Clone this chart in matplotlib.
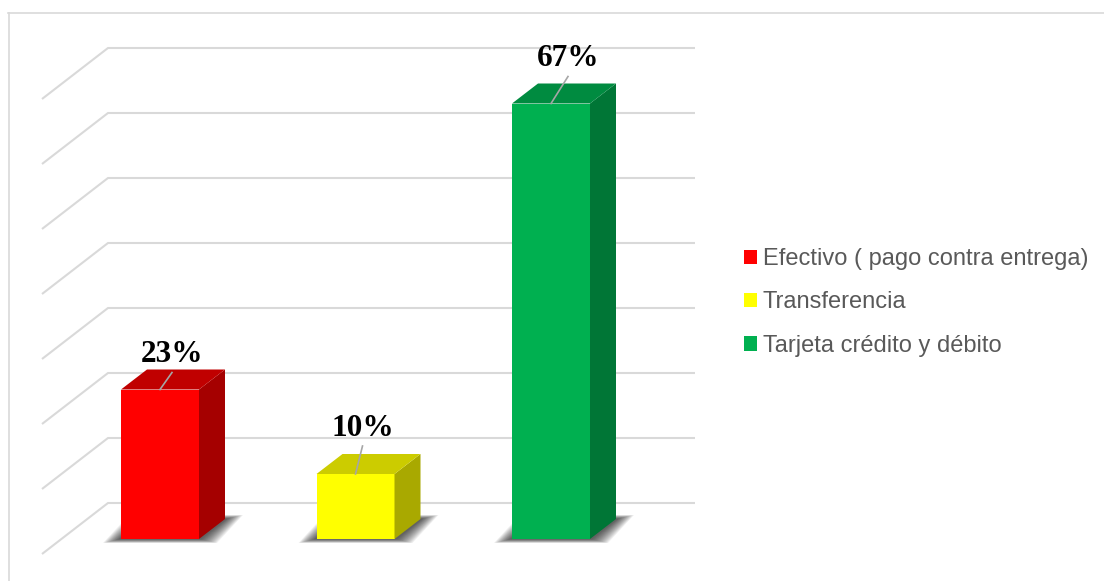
import matplotlib
matplotlib.use("Agg")
import matplotlib.pyplot as plt
from matplotlib.patches import Polygon, Rectangle
from matplotlib.lines import Line2D

# ---- data -------------------------------------------------------------
categories = ["Efectivo ( pago contra entrega)", "Transferencia", "Tarjeta crédito y débito"]
shares = [0.23, 0.10, 0.67]
value_labels = ["23%", "10%", "67%"]
gridline_values = [0.0, 0.1, 0.2, 0.3, 0.4, 0.5, 0.6, 0.7]

# ---- styling ----------------------------------------------------------
face_colors = ["#FF0000", "#FFFF00", "#00B050"]
top_colors = ["#C00000", "#CCCC00", "#008B40"]
side_colors = ["#A50000", "#A9A900", "#007636"]
# label baseline offsets in pixels (right, up) from the centre of each bar's front top edge
label_offsets = [(12, 27), (7, 38), (17, 37)]

W, H, DPI = 1104, 581, 100
PX_PER_CAT = 195.5      # horizontal distance between bar centres
PX_PER_UNIT = 650.0     # vertical pixels for a share of 1.0
FIRST_X = 160.0         # pixel column of the first bar centre
BASE_ROW = 539.0        # pixel row of the bar bases
BAR_W = 78 / PX_PER_CAT

fig = plt.figure(figsize=(W / DPI, H / DPI), dpi=DPI)
ax = fig.add_axes([0, 0, 1, 1])
ax.set_xlim(-FIRST_X / PX_PER_CAT, (W - FIRST_X) / PX_PER_CAT)
ax.set_ylim(-(H - BASE_ROW) / PX_PER_UNIT, BASE_ROW / PX_PER_UNIT)
ax.axis("off")


def col(c):
    """pixel column -> category coordinate"""
    return (c - FIRST_X) / PX_PER_CAT


def dpx(dx, dy):
    """pixel offsets (dy upward) -> data offsets"""
    return dx / PX_PER_CAT, dy / PX_PER_UNIT


DX, DY = dpx(26, 20)            # bar depth
_, WALL_UP = dpx(0, 36)         # back wall lift relative to bar fronts
_, FLOOR_DOWN = dpx(0, 15)      # front floor edge below bar fronts
wall_x0, wall_x1, floor_x = col(108), col(695), col(42)

# ---- back wall and side wall gridlines --------------------------------
grid_color = "#D9D9D9"
for v in gridline_values:
    ax.plot([floor_x, wall_x0, wall_x1],
            [v - FLOOR_DOWN, v + WALL_UP, v + WALL_UP],
            color=grid_color, lw=1.5, solid_capstyle="butt", zorder=1)

# ---- bars -------------------------------------------------------------
for i, (v, fc, tc, sc) in enumerate(zip(shares, face_colors, top_colors, side_colors)):
    x0, x1 = i - BAR_W / 2, i + BAR_W / 2

    # soft floor shadow
    n = 18
    for k in range(n):
        ex, ey = dpx(2 + 16 * k / (n - 1), 0.3 + 3.7 * k / (n - 1))
        ax.add_patch(Polygon([(x0 - ex, -ey), (x1 + ex, -ey),
                              (x1 + DX + ex, DY + ey), (x0 + DX - ex, DY + ey)],
                             closed=True, facecolor="#111111", edgecolor="none",
                             alpha=0.055, zorder=2))

    # front, side and top faces
    ax.add_patch(Polygon([(x0, 0), (x1, 0), (x1, v), (x0, v)],
                         closed=True, facecolor=fc, edgecolor="none", zorder=3))
    ax.add_patch(Polygon([(x1, 0), (x1 + DX, DY), (x1 + DX, v + DY), (x1, v)],
                         closed=True, facecolor=sc, edgecolor="none", zorder=3))
    ax.add_patch(Polygon([(x0, v), (x1, v), (x1 + DX, v + DY), (x0 + DX, v + DY)],
                         closed=True, facecolor=tc, edgecolor="none", zorder=3))

    # value label with leader line
    ox, oy = dpx(*label_offsets[i])
    _, gap = dpx(0, 10)
    ax.plot([i, i + ox], [v, v + oy - gap], color="#A6A6A6", lw=1.2, zorder=4)
    ax.text(i + ox, v + oy, value_labels[i], ha="center", va="baseline",
            fontsize=22.5, fontweight="bold", family="Liberation Serif",
            color="black", zorder=5)

# ---- legend -----------------------------------------------------------
handles = [Rectangle((0, 0), 1, 1, facecolor=c, edgecolor="none") for c in face_colors]
leg = fig.legend(handles, categories, loc="center left",
                 bbox_to_anchor=(744 / W, 1 - 302.5 / H), frameon=False,
                 prop={"family": "Liberation Sans", "size": 17},
                 handlelength=0.55, handleheight=0.55, handletextpad=0.25,
                 labelspacing=0.9, borderpad=0, borderaxespad=0)
for t in leg.get_texts():
    t.set_color("#595959")

# ---- chart area border (top and left edges) ----------------------------
fig.add_artist(Line2D([8 / W, 1], [1 - 12.5 / H, 1 - 12.5 / H],
                      transform=fig.transFigure, color="#D9D9D9", lw=1.2))
fig.add_artist(Line2D([8.5 / W, 8.5 / W], [0, 1 - 12.5 / H],
                      transform=fig.transFigure, color="#D9D9D9", lw=1.2))

fig.savefig("out.png", dpi=DPI, facecolor="white")
